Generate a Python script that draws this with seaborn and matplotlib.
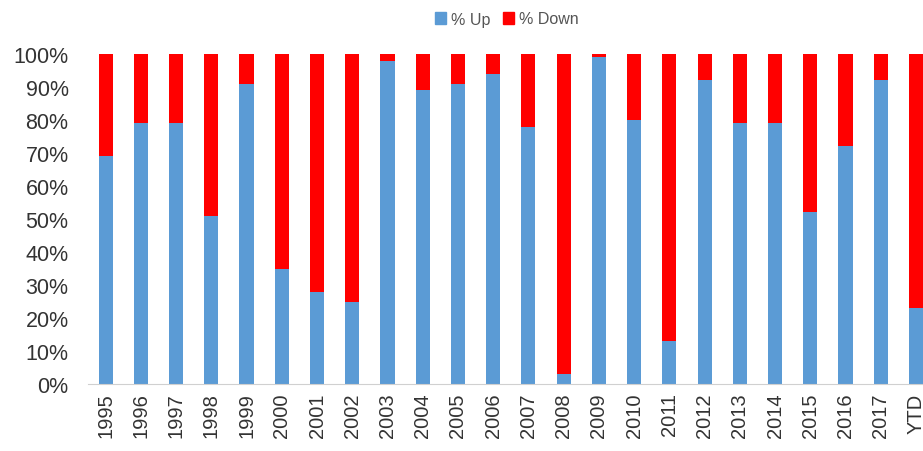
import pandas as pd
import seaborn as sns
import matplotlib.pyplot as plt
from matplotlib.ticker import PercentFormatter
from matplotlib.patches import Patch

# share of stocks up / down per year
years = ['1995', '1996', '1997', '1998', '1999', '2000', '2001', '2002', '2003', '2004',
         '2005', '2006', '2007', '2008', '2009', '2010', '2011', '2012', '2013', '2014',
         '2015', '2016', '2017', 'YTD']
pct_up = [69, 79, 79, 51, 91, 35, 28, 25, 98, 89,
          91, 94, 78, 3, 99, 80, 13, 92, 79, 79,
          52, 72, 92, 23]
pct_down = [100 - u for u in pct_up]

df = pd.DataFrame({'year': years, 'up': pct_up, 'down': pct_down})
df['total'] = df['up'] + df['down']

blue = '#5B9BD5'
red = '#FF0000'

sns.set_style('white')
plt.rcParams['font.family'] = ['Liberation Sans', 'DejaVu Sans']

fig = plt.figure(figsize=(9.23, 4.52), dpi=100)
ax = fig.add_axes([88 / 923, 1 - 385 / 452, 1 - 88 / 923, (385 - 55) / 452])

# red = full stack, blue drawn on top of it
sns.barplot(data=df, x='year', y='total', color=red, width=0.4, saturation=1,
            linewidth=0, ax=ax)
sns.barplot(data=df, x='year', y='up', color=blue, width=0.4, saturation=1,
            linewidth=0, ax=ax)

ax.set_xlim(-0.5, 23.2)
ax.set_ylim(0, 100)
ax.set_yticks(range(0, 101, 10))
ax.yaxis.set_major_formatter(PercentFormatter(decimals=0))
ax.set_xlabel('')
ax.set_ylabel('')
ax.tick_params(axis='y', labelsize=15.5, length=0, pad=14, colors='#333333')
ax.tick_params(axis='x', labelsize=14.5, length=0, rotation=90, pad=6, colors='#333333')

for s in ['top', 'right', 'left']:
    ax.spines[s].set_visible(False)
ax.spines['bottom'].set_color('#d0d0d0')

handles = [Patch(color=blue, label='% Up'), Patch(color=red, label='% Down')]
fig.legend(handles=handles, loc='center', bbox_to_anchor=(507 / 923, 1 - 20 / 452),
           ncol=2, frameon=False, fontsize=11.5, handlelength=0.7, handleheight=0.7,
           handletextpad=0.3, columnspacing=0.8, labelcolor='#555555')

fig.savefig('out.png', dpi=100)
